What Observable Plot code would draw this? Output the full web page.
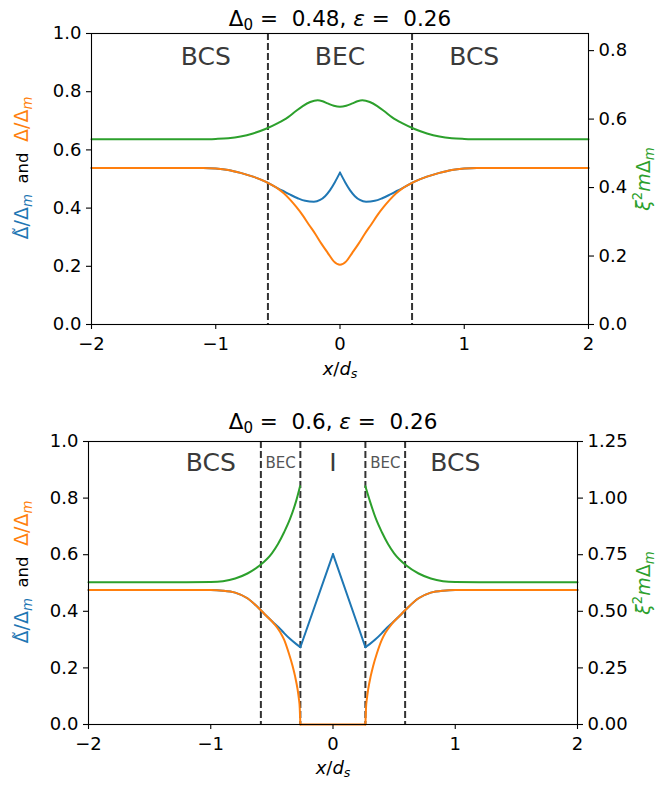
<!DOCTYPE html>
<html><head><meta charset="utf-8">
<script src="https://cdn.jsdelivr.net/npm/d3@7"></script>
<script src="https://cdn.jsdelivr.net/npm/@observablehq/plot@0.6"></script>
<style>
body{margin:0;background:#fff;}
#chart{width:660px;}
#chart svg{display:block;}
</style></head><body><div id="chart"></div>
<script>
// ---------- data ----------
const xTicks = [-2, -1, 0, 1, 2];
const leftTicks = [0, 0.2, 0.4, 0.6, 0.8, 1.0];
const rightTicksTop = [0, 0.2, 0.4, 0.6, 0.8];
const rightTicksBottom = [0, 0.25, 0.5, 0.75, 1.0, 1.25];

// top panel: Δ0 = 0.48, ε = 0.26
const boundsTop = [-0.58, 0.58];
const regionTopText = ["BCS", "BEC", "BCS"];
const regionTopX = [-1.08, 0, 1.08];

const orangeTopX = [-2, -1.1, -1.0, -0.9, -0.8, -0.7, -0.6, -0.5, -0.45, -0.4, -0.35, -0.3, -0.25, -0.2, -0.15, -0.1, -0.05, 0, 0.05, 0.1, 0.15, 0.2, 0.25, 0.3, 0.35, 0.4, 0.45, 0.5, 0.6, 0.7, 0.8, 0.9, 1.0, 1.1, 2];
const orangeTopY = [0.538, 0.538, 0.536, 0.531, 0.521, 0.508, 0.491, 0.467, 0.450, 0.428, 0.403, 0.375, 0.343, 0.312, 0.278, 0.247, 0.217, 0.205, 0.217, 0.247, 0.278, 0.312, 0.343, 0.375, 0.403, 0.428, 0.450, 0.467, 0.491, 0.508, 0.521, 0.531, 0.536, 0.538, 0.538];

const blueTopX = [-2, -1.1, -1.0, -0.9, -0.8, -0.7, -0.6, -0.55, -0.5, -0.45, -0.4, -0.34, -0.28, -0.21, -0.16, -0.12, -0.08, -0.04, 0, 0.04, 0.08, 0.12, 0.16, 0.21, 0.28, 0.34, 0.4, 0.45, 0.5, 0.55, 0.6, 0.7, 0.8, 0.9, 1.0, 1.1, 2];
const blueTopY = [0.538, 0.538, 0.536, 0.531, 0.521, 0.508, 0.491, 0.480, 0.468, 0.457, 0.446, 0.434, 0.425, 0.422, 0.428, 0.441, 0.462, 0.490, 0.522, 0.490, 0.462, 0.441, 0.428, 0.422, 0.425, 0.434, 0.446, 0.457, 0.468, 0.480, 0.491, 0.508, 0.521, 0.531, 0.536, 0.538, 0.538];

const greenTopX = [-2, -1.1, -1.0, -0.9, -0.8, -0.7, -0.6, -0.5, -0.42, -0.36, -0.3, -0.24, -0.18, -0.14, -0.1, -0.05, 0, 0.05, 0.1, 0.14, 0.18, 0.24, 0.3, 0.36, 0.42, 0.5, 0.6, 0.7, 0.8, 0.9, 1.0, 1.1, 2];
const greenTopY = [0.541, 0.541, 0.542, 0.544, 0.549, 0.558, 0.571, 0.588, 0.605, 0.622, 0.638, 0.650, 0.655, 0.652, 0.646, 0.639, 0.636, 0.639, 0.646, 0.652, 0.655, 0.650, 0.638, 0.622, 0.605, 0.588, 0.571, 0.558, 0.549, 0.544, 0.542, 0.541, 0.541];

// bottom panel: Δ0 = 0.6, ε = 0.26
const boundsBottom = [-0.59, -0.267, 0.265, 0.59];
const regionBottomText = ["BCS", "I", "BCS"];
const regionBottomX = [-1.0, 0, 1.0];
const smallBottomText = ["BEC", "BEC"];
const smallBottomX = [-0.428, 0.428];

const orangeBotX = [-2, -1.2, -1.0, -0.9, -0.8, -0.7, -0.6, -0.55, -0.48, -0.43, -0.4, -0.36, -0.33, -0.31, -0.29, -0.28, -0.272, -0.267, 0, 0.265, 0.27, 0.278, 0.288, 0.308, 0.328, 0.358, 0.4, 0.43, 0.48, 0.55, 0.6, 0.7, 0.8, 0.9, 1.0, 1.2, 2];
const orangeBotY = [0.475, 0.475, 0.475, 0.473, 0.466, 0.446, 0.408, 0.386, 0.355, 0.325, 0.300, 0.250, 0.206, 0.170, 0.125, 0.094, 0.058, 0, 0, 0, 0.058, 0.094, 0.125, 0.170, 0.206, 0.250, 0.300, 0.325, 0.355, 0.386, 0.408, 0.446, 0.466, 0.473, 0.475, 0.475, 0.475];

const blueBotX = [-2, -1.2, -1.0, -0.9, -0.8, -0.7, -0.6, -0.55, -0.48, -0.43, -0.4, -0.35, -0.3, -0.267, 0, 0.265, 0.3, 0.35, 0.4, 0.43, 0.48, 0.55, 0.6, 0.7, 0.8, 0.9, 1.0, 1.2, 2];
const blueBotY = [0.475, 0.475, 0.475, 0.473, 0.466, 0.446, 0.408, 0.386, 0.357, 0.337, 0.323, 0.302, 0.284, 0.273, 0.602, 0.273, 0.284, 0.302, 0.323, 0.337, 0.357, 0.386, 0.408, 0.446, 0.466, 0.473, 0.475, 0.475, 0.475];

const greenBotLeftX = [-2, -1.2, -1.0, -0.9, -0.8, -0.7, -0.6, -0.5, -0.45, -0.4, -0.35, -0.3, -0.27];
const greenBotLeftY = [0.628, 0.628, 0.629, 0.633, 0.645, 0.667, 0.702, 0.756, 0.797, 0.849, 0.910, 0.990, 1.052];
const greenBotRightX = [0.265, 0.3, 0.35, 0.4, 0.45, 0.5, 0.6, 0.7, 0.8, 0.9, 1.0, 1.2, 2];
const greenBotRightY = [1.052, 0.990, 0.910, 0.849, 0.797, 0.756, 0.702, 0.667, 0.645, 0.633, 0.629, 0.628, 0.628];

// ---------- helpers ----------
const BLUE = "#1f77b4", ORANGE = "#ff7f0e", GREEN = "#2ca02c";
const FONT = "DejaVu Sans, sans-serif";

function segmentize(xs, ys, breaks) {
  const out = [];
  xs.forEach((x, i) => {
    const k = breaks.filter(b => b < x).length;
    out.push({x, y: ys[i], z: k});
    if (breaks.includes(x)) out.push({x, y: ys[i], z: k + 1});
  });
  return out;
}
const minus = d => String(d).replace("-", "\u2212");

function rich(svg, key, parts, size) {
  d3.select(svg).selectAll("text").filter(function () { return this.textContent === key; }).each(function () {
    const t = d3.select(this);
    t.text(null).style("white-space", "pre");
    let shift = 0;
    for (const p of parts) {
      const s = p.size || size;
      const ts = t.append("tspan").text(p.t);
      if (p.fill) ts.attr("fill", p.fill);
      if (p.italic) ts.attr("font-style", "italic");
      const target = p.sub ? 0.22 * s : p.sup ? -0.42 * s : 0;
      if (target !== shift) ts.attr("dy", target - shift);
      ts.attr("font-size", (p.sub || p.sup) ? 0.7 * s : s);
      shift = target;
    }
  });
}

function panel(cfg) {
  const lines = [
    Plot.ruleX(cfg.bounds, {stroke: "#333", strokeWidth: 2, strokeDasharray: "7,3"}),
    Plot.line(cfg.blue, {x: "x", y: "y", z: "z", stroke: BLUE, strokeWidth: 2, curve: "monotone-x"}),
    Plot.line(cfg.orange, {x: "x", y: "y", z: "z", stroke: ORANGE, strokeWidth: 2, curve: "monotone-x"}),
    Plot.line(cfg.green, {x: "x", y: d => d.y / cfg.rmax, z: "z", stroke: GREEN, strokeWidth: 2, curve: "monotone-x"})
  ];
  const svg = Plot.plot({
    width: 660, height: cfg.height,
    marginTop: cfg.mt, marginBottom: cfg.mb, marginLeft: cfg.ml, marginRight: cfg.mr,
    x: {domain: [-2, 2]},
    y: {domain: [0, 1]},
    style: {fontFamily: FONT, fontSize: "18px", color: "black", background: "white", overflow: "visible"},
    marks: [
      ...lines,
      Plot.frame({stroke: "black", strokeWidth: 1.1}),
      Plot.axisX(xTicks, {tickSize: 5, tickPadding: 8, tickFormat: minus, label: null, strokeWidth: 1.1}),
      Plot.axisY(leftTicks, {anchor: "left", tickSize: 5, tickPadding: 5, tickFormat: d => d.toFixed(1), label: null, strokeWidth: 1.1}),
      Plot.axisY(cfg.rTicks.map(v => v / cfg.rmax), {anchor: "right", tickSize: 5, tickPadding: 5,
        tickFormat: d => (d * cfg.rmax).toFixed(cfg.rDigits), label: null, strokeWidth: 1.1}),
      Plot.text(cfg.regions, {x: "x", y: () => cfg.regionY, text: "t", fontSize: 25, fill: "#3a3a3a"}),
      Plot.text(cfg.small, {x: "x", y: () => cfg.regionY, text: "t", fontSize: 15, fill: "#555"}),
      Plot.text(["@T"], {frameAnchor: "top", dy: cfg.titleDy, text: d => d, fontSize: 21.5}),
      Plot.text(["@X"], {frameAnchor: "bottom", dy: cfg.xlDy, text: d => d, fontSize: 18}),
      Plot.text(["@YL"], {frameAnchor: "left", textAnchor: "middle", dx: -(cfg.ml - 22), dy: -11, rotate: -90, text: d => d, fontSize: 18}),
      Plot.text(["@YR"], {frameAnchor: "right", textAnchor: "middle", dx: cfg.yrDx, rotate: -90, text: d => d, fontSize: 18})
    ]
  });
  rich(svg, "@T", cfg.title, 21.5);
  rich(svg, "@X", [{t: "x", italic: true}, {t: "/"}, {t: "d", italic: true}, {t: "s", italic: true, sub: true}], 18);
  rich(svg, "@YL", [
    {t: "\u0394\u0303/\u0394", fill: BLUE}, {t: "m", italic: true, sub: true, fill: BLUE},
    {t: "  and  ", size: 16.5},
    {t: "\u0394/\u0394", fill: ORANGE}, {t: "m", italic: true, sub: true, fill: ORANGE}
  ], 19);
  rich(svg, "@YR", [
    {t: "\u03BE", italic: true, fill: GREEN}, {t: "2", sup: true, fill: GREEN},
    {t: "m", italic: true, fill: GREEN}, {t: "\u0394", fill: GREEN}, {t: "m", italic: true, sub: true, fill: GREEN}
  ], 19);
  return svg;
}

const zip = (xs, ys) => xs.map((x, i) => ({x, y: ys[i], z: 0}));

const topSvg = panel({
  height: 400, mt: 33, mb: 76, ml: 91, mr: 72,
  bounds: boundsTop,
  blue: segmentize(blueTopX, blueTopY, [0]),
  orange: zip(orangeTopX, orangeTopY),
  green: zip(greenTopX, greenTopY),
  rmax: 0.85, rTicks: rightTicksTop, rDigits: 1,
  regions: regionTopText.map((t, i) => ({t, x: regionTopX[i]})),
  small: [],
  regionY: 0.92,
  titleDy: -23, xlDy: 50, yrDx: 56,
  title: [{t: "\u0394"}, {t: "0", sub: true}, {t: " =  0.48, "}, {t: "\u03B5", italic: true}, {t: " =  0.26"}]
});

const bottomSvg = panel({
  height: 389, mt: 41, mb: 65, ml: 88, mr: 83,
  bounds: boundsBottom,
  blue: segmentize(blueBotX, blueBotY, [-0.267, 0, 0.265]),
  orange: segmentize(orangeBotX, orangeBotY, [-0.267, 0.265]),
  green: [...greenBotLeftX.map((x, i) => ({x, y: greenBotLeftY[i], z: 0})),
          ...greenBotRightX.map((x, i) => ({x, y: greenBotRightY[i], z: 1}))],
  rmax: 1.25, rTicks: rightTicksBottom, rDigits: 2,
  regions: regionBottomText.map((t, i) => ({t, x: regionBottomX[i]})),
  small: smallBottomText.map((t, i) => ({t, x: smallBottomX[i]})),
  regionY: 0.925,
  titleDy: -28, xlDy: 49, yrDx: 67,
  title: [{t: "\u0394"}, {t: "0", sub: true}, {t: " =  0.6, "}, {t: "\u03B5", italic: true}, {t: " =  0.26"}]
});

document.getElementById("chart").append(topSvg, bottomSvg);
</script>
</body></html>
